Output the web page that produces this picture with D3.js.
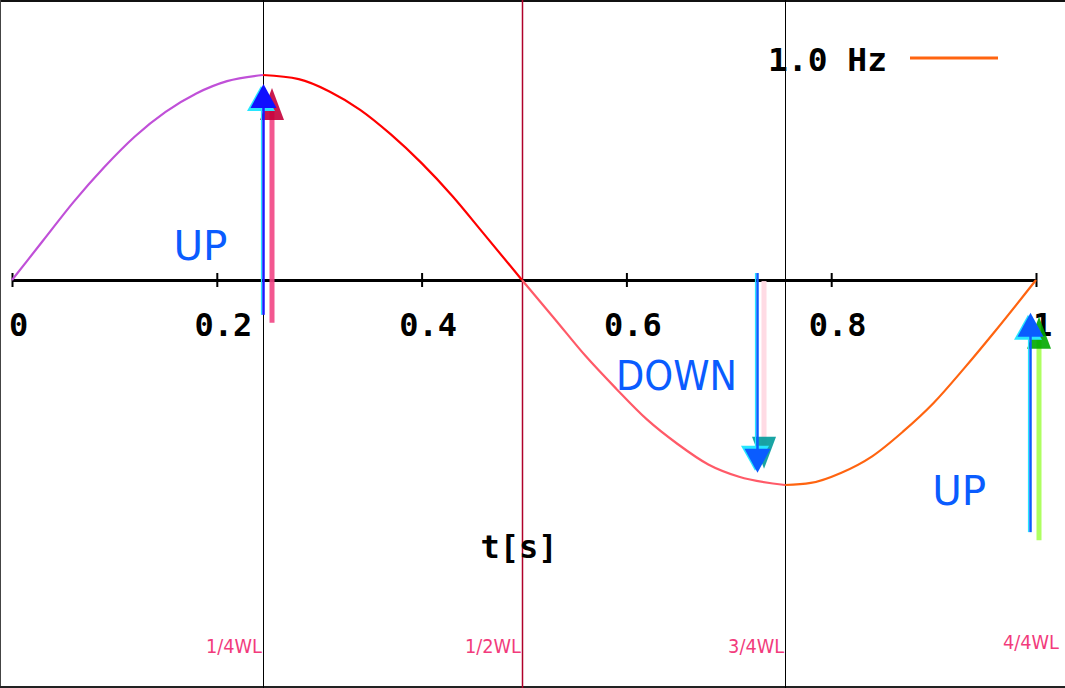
<!DOCTYPE html>
<html>
<head>
<meta charset="utf-8">
<script src="https://cdn.jsdelivr.net/npm/d3@7"></script>
<style>
  html, body { margin: 0; padding: 0; background: #fff; }
  svg { display: block; }
  .mono { font-family: "DejaVu Sans Mono", "Liberation Mono", monospace; font-weight: bold; fill: #000; }
  .wl { font-family: "DejaVu Sans", sans-serif; fill: #f23b7c; font-size: 20px; }
  .dir { font-family: "DejaVu Sans", sans-serif; fill: #0a5cff; font-size: 41px; }
</style>
</head>
<body>
<svg id="chart" width="1065" height="688"></svg>
<script>
// ---- data ----
const tickValues = [0, 0.2, 0.4, 0.6, 0.8, 1];
const tickLabels = ['0', '0.2', '0.4', '0.6', '0.8', '1'];

// one period, split into quarters (t in s, amplitude -1..1)
const rising1 = [[0, 0], [0.03, 0.19], [0.06, 0.38], [0.09, 0.55], [0.12, 0.70], [0.15, 0.82], [0.18, 0.91], [0.21, 0.97], [0.245, 1]];
const falling1 = [[0.245, 1], [0.28, 0.98], [0.31, 0.92], [0.34, 0.83], [0.37, 0.71], [0.40, 0.57], [0.43, 0.41], [0.46, 0.23], [0.498, 0]];
const falling2 = [[0.498, 0], [0.53, -0.19], [0.56, -0.37], [0.59, -0.53], [0.62, -0.68], [0.65, -0.80], [0.68, -0.90], [0.71, -0.96], [0.755, -1]];
const rising2 = [[0.755, -1], [0.78, -0.99], [0.81, -0.94], [0.84, -0.86], [0.87, -0.74], [0.90, -0.60], [0.93, -0.43], [0.96, -0.25], [1.0, 0]];

const quarterT = [0.245, 0.498, 0.755];
const quarterLabels = ['1/4WL', '1/2WL', '3/4WL', '4/4WL'];

const arrowT = [0.245, 0.728, 0.994];
const arrowFrom = [-0.17, 0.034, -1.23];
const arrowTo = [0.956, -0.94, -0.16];

const dirLabels = ['UP', 'DOWN', 'UP'];
const dirT = [0.184, 0.649, 0.925];
const dirV = [0.098, -0.537, -1.098];

const legendLabel = '1.0 Hz';
const axisTitle = 't[s]';

// ---- drawing ----
const W = 1065, H = 688;
const svg = d3.select('#chart');
const x = d3.scaleLinear().domain([0, 1]).range([12, 1036]);
const y = d3.scaleLinear().domain([-1, 1]).range([485, 75]);

// frame
svg.append('line').attr('x1', 0).attr('x2', W).attr('y1', 1).attr('y2', 1).attr('stroke', '#111').attr('stroke-width', 2);
svg.append('line').attr('x1', 0.5).attr('x2', 0.5).attr('y1', 0).attr('y2', H).attr('stroke', '#444').attr('stroke-width', 1);
svg.append('line').attr('x1', 0).attr('x2', W).attr('y1', H - 1).attr('y2', H - 1).attr('stroke', '#222').attr('stroke-width', 2);

// quarter wavelength markers
const qColors = ['#000', '#b0002a', '#000'];
svg.selectAll('line.quarter')
  .data(quarterT)
  .enter().append('line')
  .attr('class', 'quarter')
  .attr('x1', d => Math.round(x(d)) + 0.5).attr('x2', d => Math.round(x(d)) + 0.5)
  .attr('y1', 0).attr('y2', H)
  .attr('stroke', (d, i) => qColors[i])
  .attr('stroke-width', (d, i) => i === 1 ? 1.5 : 1);

svg.selectAll('text.wl')
  .data(quarterLabels)
  .enter().append('text')
  .attr('class', 'wl')
  .attr('text-anchor', 'end')
  .attr('x', (d, i) => i < 3 ? x(quarterT[i]) - 1 : W - 6)
  .attr('y', (d, i) => i < 3 ? 653 : 649)
  .attr('textLength', 56)
  .attr('lengthAdjust', 'spacingAndGlyphs')
  .text(d => d);

// axis
const axis = d3.axisBottom(x)
  .tickValues(tickValues)
  .tickSizeInner(7)
  .tickSizeOuter(0)
  .tickFormat((d, i) => tickLabels[i]);
const gx = svg.append('g').attr('transform', `translate(0,${y(0)})`).call(axis);
gx.select('.domain').attr('stroke', '#000').attr('stroke-width', 3);
gx.selectAll('.tick line').attr('y1', -7).attr('y2', 7).attr('stroke', '#000').attr('stroke-width', 2);
gx.selectAll('.tick text')
  .attr('class', 'mono')
  .attr('font-size', 32)
  .attr('font-family', null)
  .attr('dx', 6)
  .attr('dy', null)
  .attr('y', 56);

svg.append('text').attr('class', 'mono').attr('font-size', 32)
  .attr('text-anchor', 'middle').attr('x', 519).attr('y', 558).text(axisTitle);

// wave
const line = d3.line().x(d => x(d[0])).y(d => y(d[1])).curve(d3.curveMonotoneX);
const segs = [rising1, falling1, falling2, rising2];
const segColors = ['#c050d8', '#ff0000', '#ff5a68', '#ff6410'];
svg.selectAll('path.wave')
  .data(segs)
  .enter().append('path')
  .attr('class', 'wave')
  .attr('d', line)
  .attr('fill', 'none')
  .attr('stroke', (d, i) => segColors[i])
  .attr('stroke-width', 2.2);

// legend
svg.append('text').attr('class', 'mono').attr('font-size', 32)
  .attr('x', 768).attr('y', 71)
  .attr('textLength', 119).attr('lengthAdjust', 'spacingAndGlyphs')
  .text(legendLabel);
svg.append('line').attr('x1', 910).attr('x2', 998).attr('y1', 58).attr('y2', 58)
  .attr('stroke', '#ff6410').attr('stroke-width', 3);

// direction arrows: shadow copy + blue arrow
const shadowShaft = ['#f24585', '#ffd8e2', '#a6ff50'];
const shadowHead = ['#c4003a', '#009a9a', '#00a800'];
const shadowDx = [9, 7, 9];

function head(cx, tipY, dir, hw, hh) {
  const by = tipY + dir * hh;
  return `M${cx},${tipY}L${cx - hw},${by}L${cx + hw},${by}Z`;
}

arrowT.forEach((t, i) => {
  const ax = Math.round(x(t));
  const y0 = y(arrowFrom[i]);
  const y1 = y(arrowTo[i]);
  const dir = y1 < y0 ? 1 : -1; // 1 = arrow points up
  const g = svg.append('g');
  // shadow arrow
  const sx = ax + shadowDx[i];
  g.append('line').attr('x1', sx).attr('x2', sx)
    .attr('y1', y0 + 8).attr('y2', y1 + dir * 20)
    .attr('stroke', shadowShaft[i]).attr('stroke-width', 5).attr('opacity', 0.9);
  g.append('path').attr('d', head(sx, y1 + dir * 4, dir, 12, 32))
    .attr('fill', shadowHead[i]).attr('opacity', 0.9);
  // cyan fringe
  g.append('path').attr('d', head(ax - 2, y1 + dir * 2, dir, 14, 25)).attr('fill', '#27e6ff');
  g.append('line').attr('x1', ax - 1.5).attr('x2', ax - 1.5)
    .attr('y1', y0).attr('y2', y1 + dir * 20)
    .attr('stroke', '#27e6ff').attr('stroke-width', 1.2);
  // blue arrow
  g.append('line').attr('x1', ax + 0.5).attr('x2', ax + 0.5)
    .attr('y1', y0).attr('y2', y1 + dir * 20)
    .attr('stroke', i === 0 ? '#1a1aff' : '#0a5cff').attr('stroke-width', 2.5);
  g.append('path').attr('d', head(ax + 0.5, y1, dir, 13, 24))
    .attr('fill', i === 0 ? '#1010ff' : '#0a5cff');
});

svg.selectAll('text.dir')
  .data(dirLabels)
  .enter().append('text')
  .attr('class', 'dir')
  .attr('text-anchor', 'middle')
  .attr('x', (d, i) => x(dirT[i]))
  .attr('y', (d, i) => y(dirV[i]))
  .attr('textLength', d => d.length === 2 ? 54 : 121)
  .attr('lengthAdjust', 'spacingAndGlyphs')
  .text(d => d);
</script>
</body>
</html>
